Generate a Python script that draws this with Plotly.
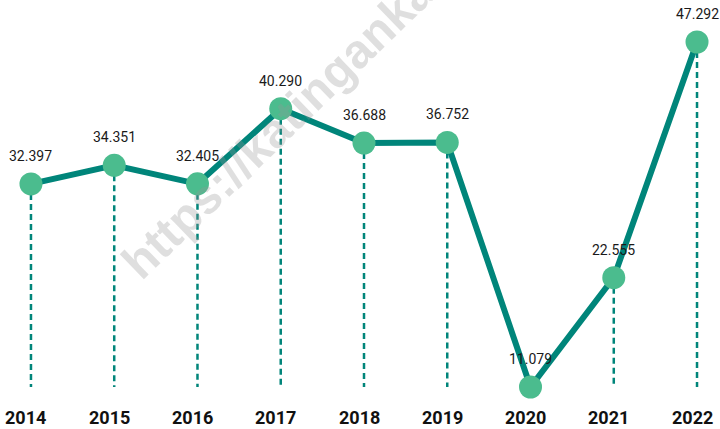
import plotly.graph_objects as go

# ---- data ----
years = [2014, 2015, 2016, 2017, 2018, 2019, 2020, 2021, 2022]
values = [32.397, 34.351, 32.405, 40.290, 36.688, 36.752, 11.079, 22.555, 47.292]
value_labels = ["32.397", "34.351", "32.405", "40.290", "36.688", "36.752", "11.079", "22.555", "47.292"]
year_labels = ["2014", "2015", "2016", "2017", "2018", "2019", "2020", "2021", "2022"]
watermark = "https://katingankab.go.id"

LINE_COLOR = "#00857a"
MARKER_COLOR = "#4bbc8e"
FONT = "Roboto, Liberation Sans, sans-serif"

baseline = min(values)

# dashed drop lines built from the data
dx, dy = [], []
for x, v in zip(years, values):
    dx += [x, x, None]
    dy += [v, baseline, None]

fig = go.Figure()
fig.add_trace(go.Scatter(
    x=dx, y=dy, mode="lines",
    line=dict(color=LINE_COLOR, width=2.5, dash="6px,4px"),
    hoverinfo="skip", cliponaxis=False, showlegend=False,
))
fig.add_trace(go.Scatter(
    x=years, y=values, mode="lines+markers",
    line=dict(color=LINE_COLOR, width=6),
    marker=dict(color=MARKER_COLOR, size=23, line=dict(width=0)),
    cliponaxis=False, showlegend=False,
))

annotations = []
for x, v, t in zip(years, values, value_labels):
    annotations.append(dict(
        x=x, y=v, xref="x", yref="y", text=t, showarrow=False,
        yshift=28, yanchor="middle", xanchor="center",
        font=dict(family=FONT, size=14, color="#1a1a1a"),
    ))
for x, t in zip(years, year_labels):
    annotations.append(dict(
        x=x, y=0, xref="x", yref="paper", text="<b>" + t + "</b>", showarrow=False,
        yshift=-30, xshift=-5, yanchor="middle", xanchor="center",
        font=dict(family=FONT, size=18, color="#111111"),
    ))
annotations.append(dict(
    x=334 / 720, y=0.913, xref="paper", yref="paper",
    xanchor="center", yanchor="middle",
    text="<b>" + watermark + "</b>", showarrow=False, textangle=-44,
    font=dict(family="Liberation Sans, Arial, sans-serif", size=48,
              color="rgba(150,150,150,0.3)"),
))

fig.update_layout(
    width=720, height=429,
    margin=dict(l=0, r=0, t=42, b=42),
    paper_bgcolor="white", plot_bgcolor="white",
    hovermode=False,
    xaxis=dict(range=[2013.628, 2022.276], visible=False, fixedrange=True),
    yaxis=dict(range=[11.079, 47.292], visible=False, fixedrange=True),
    annotations=annotations,
)

fig.write_html("out.html", config={"displayModeBar": False},
               post_script="document.body.style.margin='0';")
